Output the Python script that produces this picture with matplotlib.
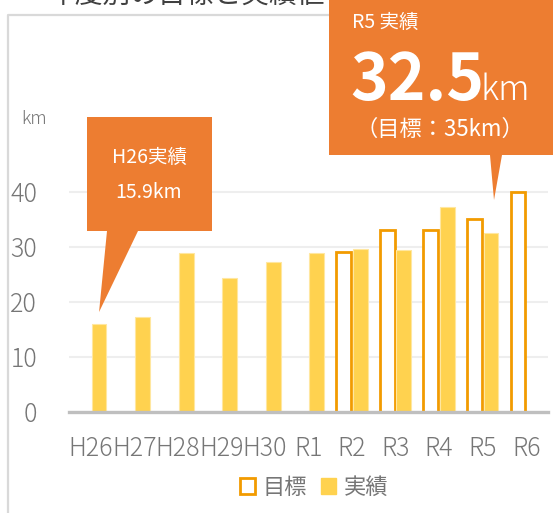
import matplotlib.pyplot as plt
import numpy as np
from matplotlib.patches import Patch, Polygon

plt.rcParams['font.family'] = ['Noto Sans CJK JP', 'DejaVu Sans']

# data
years = ["H26", "H27", "H28", "H29", "H30", "R1", "R2", "R3", "R4", "R5", "R6"]
target = [np.nan, np.nan, np.nan, np.nan, np.nan, np.nan, 29.0, 33.0, 33.0, 35.0, 40.0]
actual = [15.9, 17.2, 28.9, 24.2, 27.2, 28.8, 29.5, 29.3, 37.2, 32.5, np.nan]
yticks = [0, 10, 20, 30, 40]

ORANGE = "#ED7D31"
GOLD = "#F29B00"
YELLOW = "#FFD24F"
GRAY = "#767676"

W, H = 553, 513
fig = plt.figure(figsize=(W / 100, H / 100), dpi=100)

# main axes placed in pixel terms
left, right, bottom, top = 69, 548, 411.5, 164
ax = fig.add_axes([left / W, (H - bottom) / H, (right - left) / W, (bottom - top) / H])

x = np.arange(len(years))
off = 0.19
bw = 0.34
ax.bar(x - off, target, bw, facecolor="white", edgecolor=GOLD, linewidth=2.0, zorder=3)
ax.bar(x + off, actual, bw, color=YELLOW, edgecolor="#FFE7A0", linewidth=0.8, zorder=3)

ax.set_xlim(-0.5, len(years) - 0.5)
ax.set_ylim(0, 45)
ax.set_yticks(yticks)
ax.set_xticks(x)
ax.set_xticklabels(years)
ax.tick_params(axis="both", length=0, colors=GRAY, labelsize=18)
ax.tick_params(axis="y", pad=23)
ax.tick_params(axis="x", pad=17)
for lbl in ax.get_xticklabels() + ax.get_yticklabels():
    lbl.set_fontweight("light")
ax.grid(axis="y", color="#EEEEEE", linewidth=1.5)
ax.set_axisbelow(True)
for s in ["top", "right", "left"]:
    ax.spines[s].set_visible(False)
ax.spines["bottom"].set_color("#BFBFBF")
ax.spines["bottom"].set_linewidth(2.4)
ax.spines["bottom"].set_zorder(4)

# overlay in pixel coordinates for frame, callouts and texts
ov = fig.add_axes([0, 0, 1, 1], zorder=5)
ov.set_xlim(0, W)
ov.set_ylim(H, 0)
ov.axis("off")
ov.patch.set_alpha(0)


def to_px(xd, yd):
    pt = ax.transData.transform((xd, yd))
    return ov.transData.inverted().transform(pt)


# outer chart frame (runs off the picture)
ov.plot([8, 8, W + 10], [H + 10, 15, 15], color="#D9D9D9", linewidth=1.6, zorder=1)

# cut-off title
fig.text(48 / W, 1 - 4 / H, "年度別の目標と実績値", fontsize=20, color="#404040",
         va="baseline", ha="left")

# unit label
ov.text(34, 119, "km", fontsize=13, color=GRAY, ha="center", va="center",
        fontweight="light")

# H26 callout
tx, ty = to_px(x[0] + off, actual[0])
ty -= 12
ov.add_patch(Polygon([(87, 117), (212, 117), (212, 231), (138, 231), (tx, ty),
                      (107, 231), (87, 231)], closed=True, facecolor=ORANGE,
                     edgecolor="none", zorder=6))
ov.text(149, 157, f"{years[0]}実績", fontsize=14, color="white", ha="center",
        va="center", zorder=7)
ov.text(149, 192, f"{actual[0]}km", fontsize=14, color="white", ha="center",
        va="center", zorder=7)

# R5 callout
tx, ty = to_px(x[9] + 0.26, target[9])
ty -= 19
ov.add_patch(Polygon([(329, -5), (W + 10, -5), (W + 10, 155), (502, 155), (tx, ty),
                      (490, 155), (329, 155)], closed=True, facecolor=ORANGE,
                     edgecolor="none", zorder=6))
ov.text(352, 22, f"{years[9]} 実績", fontsize=14, color="white", ha="left",
        va="center", zorder=7)
ov.text(350, 100, f"{actual[9]}", fontsize=46, fontweight="bold", color="white",
        ha="left", va="baseline", zorder=7)
ov.text(481, 100, "km", fontsize=25, color="white", ha="left", va="baseline",
        fontweight="light", zorder=7)
ov.text(440, 129, f"（目標：{target[9]:.0f}km）", fontsize=16, color="white",
        ha="center", va="center", zorder=7)

# legend
handles = [Patch(facecolor="white", edgecolor=GOLD, linewidth=2.0, label="目標"),
           Patch(facecolor=YELLOW, edgecolor=YELLOW, label="実績")]
leg = fig.legend(handles=handles, loc="center", bbox_to_anchor=(314 / W, 1 - 487 / H),
                 ncol=2, frameon=False, fontsize=16, handlelength=0.7,
                 handleheight=0.7, handletextpad=0.35, columnspacing=0.6)
for t in leg.get_texts():
    t.set_color(GRAY)

fig.savefig("out.png", dpi=100)
